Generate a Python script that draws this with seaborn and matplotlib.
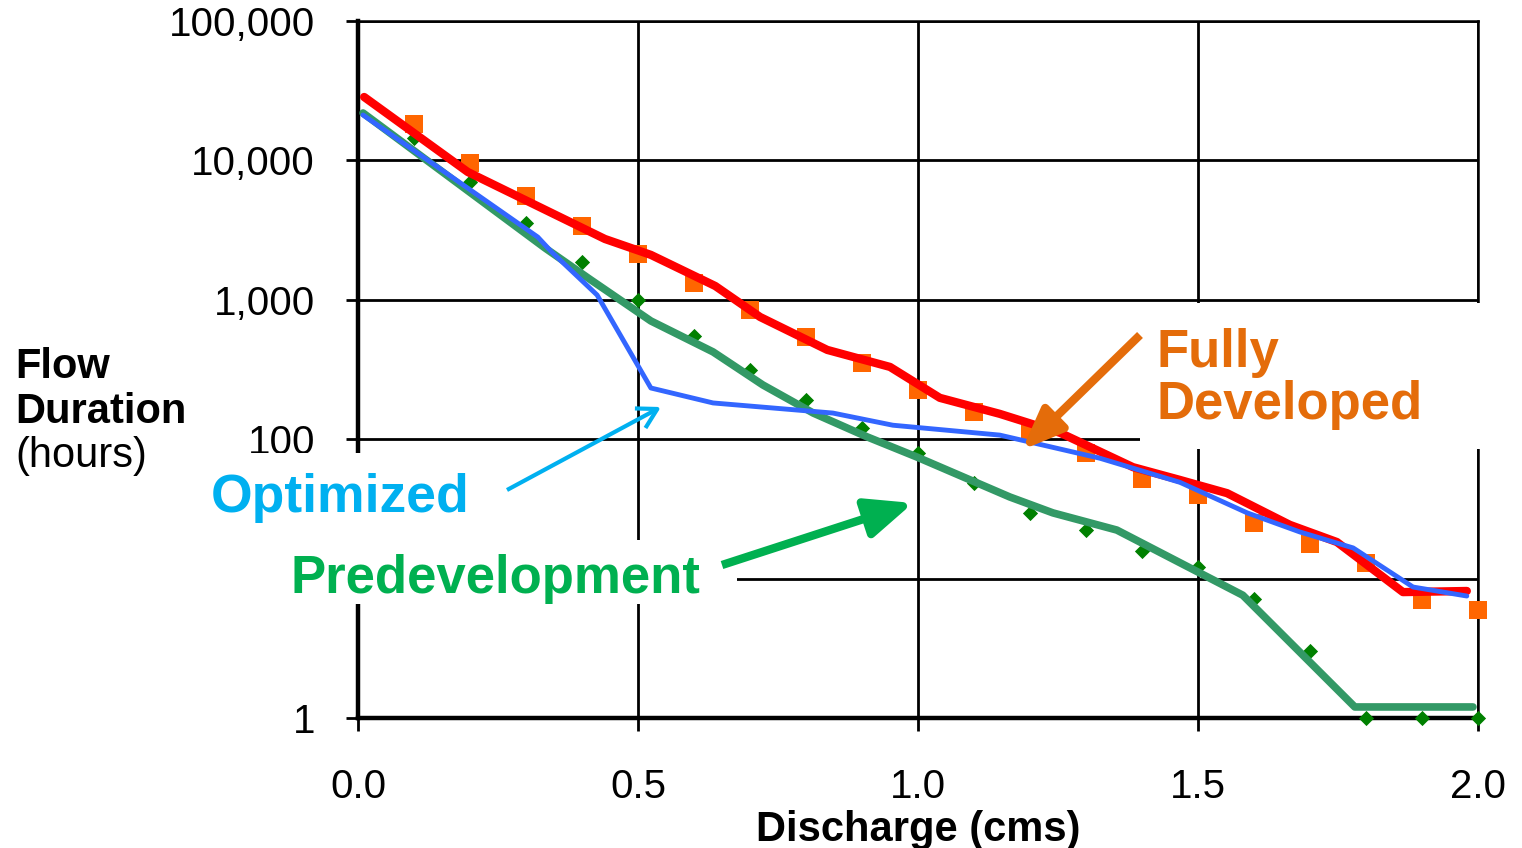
import matplotlib
matplotlib.use("Agg")
import matplotlib.pyplot as plt
import seaborn as sns
import pandas as pd
from matplotlib.patches import Rectangle, FancyArrowPatch
from matplotlib.ticker import FixedLocator, FuncFormatter, NullLocator

# ---------------- data ----------------
x_ticks = [0.0, 0.5, 1.0, 1.5, 2.0]
y_ticks = [1, 10, 100, 1000, 10000, 100000]

# point series (markers)
pt_x = [0.1, 0.2, 0.3, 0.4, 0.5, 0.6, 0.7, 0.8, 0.9, 1.0,
        1.1, 1.2, 1.3, 1.4, 1.5, 1.6, 1.7, 1.8, 1.9, 2.0]
fully_pts = [18200, 9600, 5600, 3400, 2130, 1320, 850, 540, 350, 225,
             157, 111, 80, 52, 40, 25, 17.7, 12.9, 7.0, 6.0]
pre_pts = [14500, 7000, 3550, 1870, 1000, 550, 313, 191, 120, 80,
           48.5, 29.6, 22.3, 15.8, 12.1, 7.1, 3.0, 1, 1, 1]

# line series
red_x = [0.011, 0.196, 0.441, 0.523, 0.638, 0.718, 0.838, 0.950, 1.039,
         1.146, 1.254, 1.384, 1.468, 1.552, 1.664, 1.748, 1.866, 1.980]
red_y = [28500, 8260, 2730, 2100, 1256, 753, 437, 330, 198,
         152, 111, 63, 51, 41, 24.3, 18.3, 8.0, 8.15]

blue_x = [0.009, 0.321, 0.346, 0.427, 0.523, 0.634, 0.848, 0.955,
          1.146, 1.325, 1.468, 1.588, 1.682, 1.777, 1.884, 1.980]
blue_y = [21170, 2820, 2200, 1082, 233, 182, 154, 126,
          107, 73, 49, 29.6, 21.6, 16.6, 8.7, 7.5]

green_x = [0.009, 0.334, 0.416, 0.523, 0.634, 0.723, 0.813, 0.909,
           0.998, 1.164, 1.241, 1.355, 1.580, 1.780, 1.991]
green_y = [21880, 2353, 1387, 705, 423, 245, 154, 104,
           74.5, 38.5, 29.6, 22.3, 7.6, 1.2, 1.2]

# ---------------- style ----------------
sns.set_theme(style="white")
plt.rcParams["font.family"] = ["Liberation Sans", "DejaVu Sans"]

W, H = 1522, 848
fig = plt.figure(figsize=(W / 100, H / 100), dpi=100)
fig.patch.set_facecolor("white")


def fx(px):
    return px / W


def fy(py):
    return 1 - py / H


ax = fig.add_axes([fx(358), fy(718), 1120 / W, 697 / H])
ax.set_facecolor("white")

# ---------------- marks ----------------
pts = pd.DataFrame({"x": pt_x, "fully": fully_pts, "pre": pre_pts})
sns.scatterplot(data=pts, x="x", y="fully", marker="s", s=150, color="#FF6600",
                linewidth=0, ax=ax, zorder=3, clip_on=False)
sns.scatterplot(data=pts, x="x", y="pre", marker="D", s=60, color="#008000",
                linewidth=0, ax=ax, zorder=3, clip_on=False)

sns.lineplot(x=green_x, y=green_y, color="#339966", linewidth=5.5, ax=ax,
             sort=False, estimator=None, zorder=4)
sns.lineplot(x=red_x, y=red_y, color="#FF0000", linewidth=6, ax=ax,
             sort=False, estimator=None, zorder=4.2)
sns.lineplot(x=blue_x, y=blue_y, color="#3366FF", linewidth=3.5, ax=ax,
             sort=False, estimator=None, zorder=4.4)

# ---------------- axes ----------------
ax.set_yscale("log")
ax.set_xlim(0, 2)
ax.set_ylim(1, 100000)
ax.xaxis.set_major_locator(FixedLocator(x_ticks))
ax.xaxis.set_major_formatter(FuncFormatter(lambda v, p: f"{v:.1f}"))
ax.yaxis.set_major_locator(FixedLocator(y_ticks))
ax.yaxis.set_major_formatter(FuncFormatter(lambda v, p: f"{v:,.0f}"))
ax.yaxis.set_minor_locator(NullLocator())
ax.xaxis.set_minor_locator(NullLocator())

ax.set_axisbelow(True)
ax.grid(True, which="major", color="black", linewidth=2)
for side in ["left", "bottom"]:
    ax.spines[side].set_linewidth(3.2)
    ax.spines[side].set_color("black")
for side in ["top", "right"]:
    ax.spines[side].set_linewidth(1.8)
    ax.spines[side].set_color("black")

ax.tick_params(axis="both", which="major", direction="out", length=9,
               width=2, color="black", labelsize=29, labelcolor="black",
               bottom=True, left=True, top=False, right=False)
ax.tick_params(axis="y", pad=22)
ax.tick_params(axis="x", pad=27)

ax.set_xlabel("Discharge (cms)", fontsize=30, fontweight="bold",
              color="black", labelpad=3)
ax.set_ylabel("")

# y-axis title, left of the tick labels
fig.text(fx(15), fy(378), "Flow", fontsize=30, fontweight="bold",
         ha="left", va="baseline", color="black")
fig.text(fx(15), fy(423), "Duration", fontsize=30, fontweight="bold",
         ha="left", va="baseline", color="black")
fig.text(fx(15), fy(467), "(hours)", fontsize=30,
         ha="left", va="baseline", color="black")

# ---------------- annotation boxes (white text boxes) ----------------
for (x0, y0, x1, y1) in [(1140, 303, 1500, 449),
                         (205, 453, 480, 540),
                         (268, 540, 737, 604)]:
    fig.add_artist(Rectangle((fx(x0), fy(y1)), (x1 - x0) / W, (y1 - y0) / H,
                             transform=fig.transFigure, facecolor="white",
                             edgecolor="none", zorder=1))

c_opt = "#00B0F0"
c_pre = "#00B050"
c_full = "#E46C0A"

fig.text(fx(211), fy(512), "Optimized", fontsize=38.5, fontweight="bold",
         color=c_opt, ha="left", va="baseline", zorder=3)
fig.text(fx(291), fy(593), "Predevelopment", fontsize=38, fontweight="bold",
         color=c_pre, ha="left", va="baseline", zorder=3)
fig.text(fx(1157), fy(367), "Fully", fontsize=38, fontweight="bold",
         color=c_full, ha="left", va="baseline", zorder=3)
fig.text(fx(1157), fy(419), "Developed", fontsize=38, fontweight="bold",
         color=c_full, ha="left", va="baseline", zorder=3)

arrows = [
    ((507, 490), (661, 407), c_opt, 3.0, "->,head_length=1.4,head_width=0.8"),
    ((722, 565), (913, 503), c_pre, 6.0, "-|>,head_length=2.8,head_width=1.2"),
    ((1140, 335), (1022, 450), c_full, 6.0, "-|>,head_length=2.5,head_width=1.0"),
]
for (a, b, col, lw, style) in arrows:
    fig.add_artist(FancyArrowPatch((fx(a[0]), fy(a[1])), (fx(b[0]), fy(b[1])),
                                   transform=fig.transFigure, arrowstyle=style,
                                   mutation_scale=10, color=col, linewidth=lw,
                                   shrinkA=0, shrinkB=0, zorder=3,
                                   joinstyle="round", capstyle="butt"))

fig.savefig("out.png", dpi=100, facecolor="white")
